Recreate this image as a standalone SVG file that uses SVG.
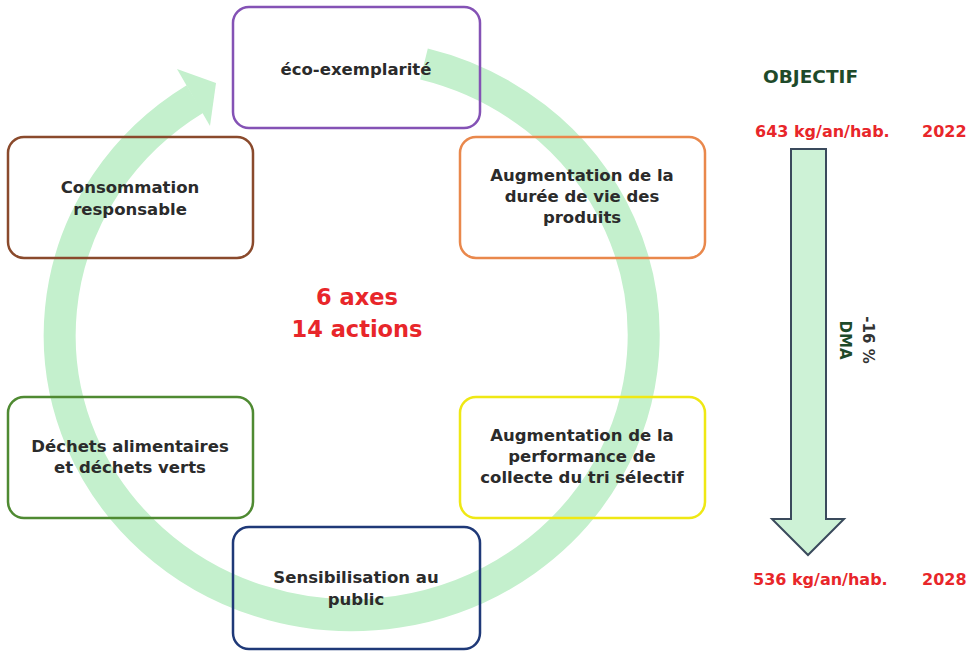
<svg xmlns="http://www.w3.org/2000/svg" width="978" height="652" viewBox="0 0 978 652">
<style>
.box{fill:none;stroke-width:2.5}
.lbl{font-family:"DejaVu Sans",sans-serif;font-weight:bold;font-size:16.5px;fill:#2b2b2b;text-anchor:middle}
.red{font-family:"DejaVu Sans",sans-serif;font-weight:bold;fill:#e8262a}
.ring{fill:none;stroke:#c4f0cd;stroke-width:32}
</style>
<rect width="978" height="652" fill="#ffffff"/>
<g id="connectors">
<path class="ring" d="M424,64 A292,280 0 1 1 195,99"/>
<polygon points="177,69 216,83 210,126" fill="#c4f0cd"/>
</g>
<g id="node-eco">
<rect class="box" x="233" y="7" width="247" height="121" rx="16" stroke="#8452b5"/>
<text class="lbl" x="356" y="75">éco-exemplarité</text>
</g>
<g id="node-conso">
<rect class="box" x="8" y="137" width="245" height="121" rx="16" stroke="#8a4a2c"/>
<text class="lbl" x="130" y="193">Consommation</text>
<text class="lbl" x="130" y="215">responsable</text>
</g>
<g id="node-duree">
<rect class="box" x="460" y="137" width="245" height="121" rx="16" stroke="#e9884c"/>
<text class="lbl" x="582" y="181">Augmentation de la</text>
<text class="lbl" x="582" y="202">durée de vie des</text>
<text class="lbl" x="582" y="223">produits</text>
</g>
<g id="node-dechets">
<rect class="box" x="8" y="397" width="245" height="121" rx="16" stroke="#4f8a32"/>
<text class="lbl" x="130" y="452">Déchets alimentaires</text>
<text class="lbl" x="130" y="473">et déchets verts</text>
</g>
<g id="node-tri">
<rect class="box" x="460" y="397" width="245" height="121" rx="16" stroke="#efe814"/>
<text class="lbl" x="582" y="441">Augmentation de la</text>
<text class="lbl" x="582" y="462">performance de</text>
<text class="lbl" x="582" y="483">collecte du tri sélectif</text>
</g>
<g id="node-sensib">
<rect class="box" x="233" y="527" width="247" height="122" rx="16" stroke="#1f3978"/>
<text class="lbl" x="356" y="583">Sensibilisation au</text>
<text class="lbl" x="356" y="605">public</text>
</g>
<g id="center">
<text class="red" x="357" y="305" font-size="22.5" text-anchor="middle">6 axes</text>
<text class="red" x="357" y="337" font-size="22.5" text-anchor="middle">14 actions</text>
</g>
<g id="objectif">
<text x="763" y="83" font-family="DejaVu Sans, sans-serif" font-weight="bold" font-size="18.5" fill="#1e4a2a">OBJECTIF</text>
<text class="red" x="755" y="137" font-size="16">643 kg/an/hab.</text>
<text class="red" x="922" y="137" font-size="16">2022</text>
<polygon points="791,149 826,149 826,519 844,519 808,555 772,519 791,519" fill="#cdf2d6" stroke="#3a4a5c" stroke-width="2" stroke-linejoin="miter"/>
<text transform="translate(863,340) rotate(90)" text-anchor="middle" font-family="DejaVu Sans, sans-serif" font-weight="bold" font-size="15" fill="#333333">-16 %</text>
<text transform="translate(840,340) rotate(90)" text-anchor="middle" font-family="DejaVu Sans, sans-serif" font-weight="bold" font-size="15" fill="#1e4a2a">DMA</text>
<text class="red" x="753" y="585" font-size="16">536 kg/an/hab.</text>
<text class="red" x="922" y="585" font-size="16">2028</text>
</g>
</svg>
